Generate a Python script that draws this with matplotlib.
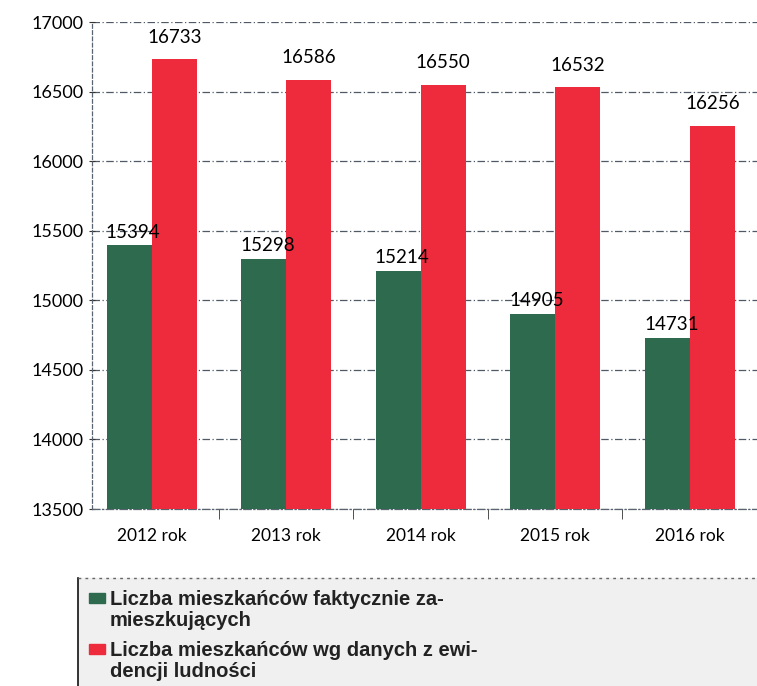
import numpy as np
import matplotlib.pyplot as plt
from matplotlib.patches import Rectangle
from matplotlib.lines import Line2D

years = ["2012 rok", "2013 rok", "2014 rok", "2015 rok", "2016 rok"]
faktyczni = [15394, 15298, 15214, 14905, 14731]
ewidencja = [16733, 16586, 16550, 16532, 16256]
legend_labels = ["Liczba mieszkańców faktycznie za-\nmieszkujących",
                 "Liczba mieszkańców wg danych z ewi-\ndencji ludności"]
green = "#2d6a4e"
red = "#ee2b3d"

W, H = 757, 686
fig = plt.figure(figsize=(W / 100, H / 100), dpi=100)
ax = fig.add_axes([92 / W, 1 - 509 / H, (757 - 92) / W, (509 - 22) / H])

x = np.arange(len(years))
bw = 0.335
ax.bar(x - bw / 2, faktyczni, bw, color=green, zorder=3)
ax.bar(x + bw / 2, ewidencja, bw, color=red, zorder=3)

for xi, v in zip(x, faktyczni):
    ax.text(xi - bw / 2 + 0.03, v + 35, str(v), ha="center", va="bottom",
            fontsize=13.5, family="Lato", zorder=4)
for xi, v in zip(x, ewidencja):
    ax.text(xi + bw / 2, v + 95, str(v), ha="center", va="bottom",
            fontsize=13.5, family="Lato", zorder=4)

ax.set_ylim(13500, 17000)
ax.set_xlim(-0.444, 4.48)
ax.set_yticks(np.arange(13500, 17001, 500))
ax.yaxis.grid(True, ls=(0, (6, 2, 1, 2)), color="#505a66", lw=0.9, zorder=0)
ax.set_xticks(x)
ax.set_xticklabels(years, fontsize=12.5, family="Lato")
ax.set_xticks(np.arange(len(years)) + 0.5, minor=True)
ax.tick_params(axis="x", which="major", length=0, pad=14)
ax.tick_params(axis="x", which="minor", length=7, direction="out", color="#333")
ax.tick_params(axis="y", length=5, direction="inout", color="#333")
for lab in ax.get_yticklabels():
    lab.set_family("Lato")
    lab.set_fontsize(13)

for s in ["top", "right"]:
    ax.spines[s].set_visible(False)
ax.spines["left"].set_linestyle((0, (3, 2)))
ax.spines["left"].set_color("#5a6470")
ax.spines["left"].set_linewidth(0.9)
ax.spines["bottom"].set_linestyle((0, (6, 2, 1, 2)))
ax.spines["bottom"].set_color("#5a6470")
ax.spines["bottom"].set_linewidth(0.9)

# legend block below the chart
fig.patches.append(Rectangle((78 / W, 0), 1 - 78 / W, 1 - 578 / H,
                             transform=fig.transFigure, color="#f0f0f0", zorder=0))
fig.lines.append(Line2D([78 / W, 78 / W], [0, 1 - 578 / H], transform=fig.transFigure,
                        color="#111", lw=1.2))
fig.lines.append(Line2D([78 / W, 1], [1 - 578 / H, 1 - 578 / H], transform=fig.transFigure,
                        color="#666", lw=1, ls=(0, (2, 3))))
for i, (lab, col) in enumerate(zip(legend_labels, [green, red])):
    ytop = 590 + i * 51
    fig.patches.append(Rectangle((89 / W, 1 - (ytop + 13) / H), 16 / W, 10 / H,
                                 transform=fig.transFigure, color=col))
    fig.text(110 / W, 1 - ytop / H, lab, ha="left", va="top", fontsize=14.5,
             family="Liberation Sans", weight="bold", color="#222",
             linespacing=1.12)

fig.savefig("out.png", dpi=100)
